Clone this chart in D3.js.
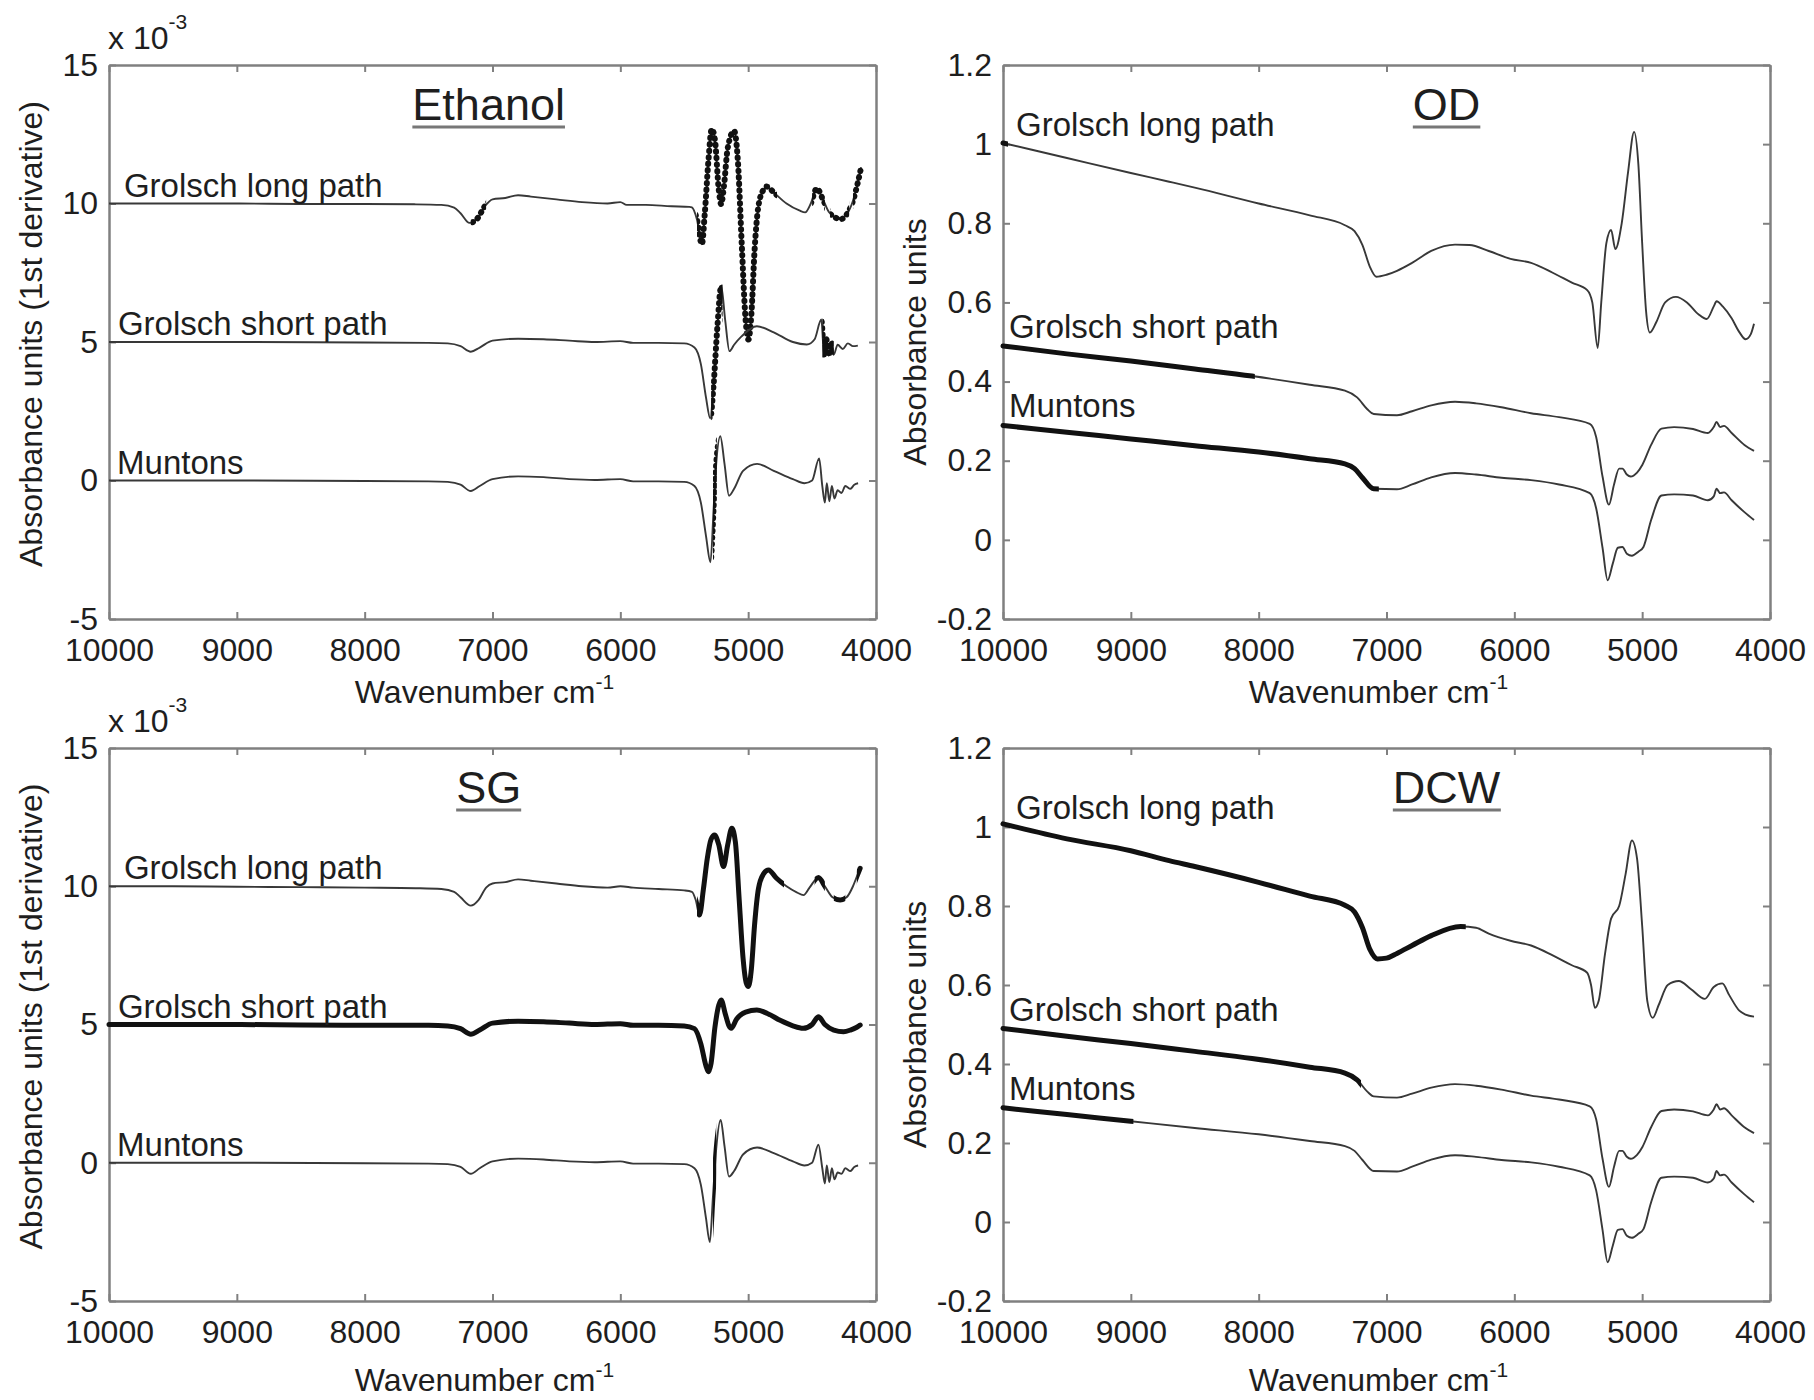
<!DOCTYPE html>
<html>
<head>
<meta charset="utf-8">
<script src="https://cdn.jsdelivr.net/npm/d3@7"></script>
<style>
  body { margin: 0; background: #fff; }
  text { font-family: "Liberation Sans", Arial, Helvetica, sans-serif; fill: #1e1e1e; }
</style>
</head>
<body>
<svg id="fig" width="1814" height="1400"></svg>
<script>
// ---- data: [wavenumber cm-1, value] ----
const wavenumberTicks = [10000, 9000, 8000, 7000, 6000, 5000, 4000];
const derivTicks = [-5, 0, 5, 10, 15];
const absTicks = [-0.2, 0, 0.2, 0.4, 0.6, 0.8, 1, 1.2];
const seriesNames = ["Grolsch long path", "Grolsch short path", "Muntons"];
const panelTitles = ["Ethanol", "OD", "SG", "DCW"];

// 1st derivative spectra (x 10^-3), offset by 10 / 5 / 0
const ethanolLongPath = [[10000,10.0],[9500,10.0],[9000,10.0],[8500,9.98],[8000,9.98],[7600,9.97],[7400,9.95],[7300,9.85],[7250,9.65],[7180,9.3],[7120,9.45],[7060,9.9],[7000,10.15],[6900,10.2],[6800,10.3],[6700,10.25],[6500,10.15],[6300,10.05],[6100,10.0],[6000,10.05],[5950,9.95],[5800,9.95],[5600,9.9],[5460,9.88],[5440,9.86],[5401,9.43],[5362,8.53],[5340,9.6],[5310,11.6],[5285,12.69],[5260,12.3],[5230,10.5],[5211,9.97],[5190,10.6],[5160,12.0],[5110,12.62],[5080,11.5],[5050,8.5],[5020,5.8],[4998,5.09],[4975,6.0],[4950,8.3],[4920,9.9],[4880,10.5],[4854,10.61],[4800,10.4],[4700,10.0],[4600,9.75],[4554,9.68],[4510,10.0],[4463,10.55],[4420,10.2],[4370,9.7],[4320,9.5],[4280,9.43],[4230,9.6],[4180,10.1],[4140,10.8],[4116,11.31]];
const ethanolShortPath = [[10000,5.0],[9000,5.0],[8000,4.98],[7500,4.97],[7350,4.95],[7250,4.85],[7170,4.65],[7100,4.8],[7000,5.05],[6800,5.12],[6600,5.1],[6400,5.05],[6200,5.0],[6000,5.03],[5900,4.97],[5700,4.97],[5500,4.95],[5420,4.8],[5370,4.2],[5330,3.0],[5297,2.24],[5270,3.5],[5240,5.6],[5211,7.02],[5180,5.8],[5146,4.67],[5110,4.9],[5050,5.21],[4932,5.57],[4800,5.35],[4650,5.0],[4541,4.91],[4480,5.1],[4428,5.81],[4405,4.49],[4389,5.1],[4370,4.5],[4350,5.0],[4330,4.55],[4300,4.9],[4260,4.75],[4220,4.95],[4180,4.85],[4142,4.87]];
const ethanolMuntons = [[10000,0],[9000,0],[8000,-0.02],[7500,-0.03],[7350,-0.05],[7250,-0.15],[7170,-0.38],[7100,-0.2],[7000,0.05],[6800,0.15],[6600,0.12],[6400,0.05],[6200,0.02],[6000,0.05],[5900,-0.03],[5700,-0.03],[5500,-0.05],[5420,-0.2],[5370,-0.8],[5330,-2.0],[5295,-2.95],[5270,-1.0],[5250,0.6],[5218,1.6],[5185,0.6],[5150,-0.55],[5110,-0.3],[5040,0.35],[4930,0.6],[4800,0.35],[4650,0.05],[4560,-0.1],[4500,0.0],[4445,0.8],[4420,-0.2],[4400,-0.8],[4385,-0.1],[4365,-0.75],[4345,-0.2],[4325,-0.65],[4300,-0.35],[4270,-0.45],[4240,-0.2],[4200,-0.3],[4170,-0.15],[4140,-0.1]];

const sgLongPath = [[10000,10.0],[9500,10.0],[9000,9.98],[8500,9.97],[8000,9.95],[7600,9.93],[7400,9.9],[7300,9.8],[7250,9.6],[7170,9.3],[7110,9.5],[7050,9.95],[7000,10.1],[6900,10.15],[6800,10.25],[6700,10.2],[6500,10.1],[6300,10.0],[6100,9.95],[6000,10.0],[5900,9.95],[5700,9.9],[5500,9.85],[5440,9.8],[5410,9.5],[5381,8.96],[5350,9.9],[5320,11.0],[5290,11.7],[5263,11.85],[5230,11.5],[5193,10.71],[5160,11.5],[5128,12.1],[5100,11.6],[5070,9.5],[5040,7.4],[5015,6.5],[4998,6.37],[4975,7.0],[4950,8.6],[4920,9.9],[4880,10.45],[4841,10.59],[4780,10.3],[4700,10.0],[4620,9.78],[4567,9.68],[4520,9.95],[4450,10.32],[4400,10.0],[4340,9.6],[4280,9.5],[4230,9.6],[4180,10.0],[4150,10.35],[4124,10.65]];
const sgShortPath = [[10000,5.0],[9000,5.0],[8500,4.98],[8000,4.97],[7500,4.97],[7350,4.95],[7250,4.85],[7170,4.65],[7100,4.8],[7000,5.05],[6800,5.12],[6600,5.1],[6400,5.05],[6200,5.0],[6000,5.03],[5900,4.97],[5700,4.97],[5500,4.95],[5420,4.85],[5370,4.3],[5330,3.5],[5311,3.29],[5290,3.6],[5260,4.9],[5230,5.7],[5211,5.89],[5180,5.4],[5150,4.95],[5133,4.86],[5090,5.2],[5020,5.45],[4932,5.52],[4850,5.4],[4750,5.15],[4650,4.95],[4570,4.86],[4500,5.0],[4450,5.28],[4400,5.0],[4330,4.8],[4254,4.74],[4200,4.8],[4150,4.9],[4124,4.98]];
const sgMuntons = [[10000,0],[9000,0],[8000,-0.02],[7500,-0.03],[7350,-0.05],[7250,-0.15],[7170,-0.4],[7100,-0.2],[7000,0.05],[6800,0.15],[6600,0.12],[6400,0.05],[6200,0.02],[6000,0.05],[5900,-0.03],[5700,-0.03],[5500,-0.05],[5420,-0.2],[5370,-0.8],[5330,-2.0],[5300,-2.87],[5275,-1.2],[5250,0.5],[5215,1.55],[5185,0.6],[5150,-0.5],[5110,-0.3],[5040,0.3],[4930,0.55],[4800,0.35],[4650,0.05],[4560,-0.1],[4500,0.0],[4450,0.65],[4420,-0.2],[4400,-0.75],[4385,-0.1],[4365,-0.7],[4345,-0.2],[4325,-0.6],[4300,-0.35],[4270,-0.4],[4240,-0.2],[4200,-0.3],[4170,-0.15],[4140,-0.1]];

// absorbance spectra
const odLongPath = [[10000,1.003],[9500,0.965],[9000,0.927],[8700,0.905],[8500,0.89],[8000,0.85],[7600,0.82],[7325,0.795],[7250,0.78],[7188,0.745],[7130,0.69],[7080,0.665],[7000,0.67],[6918,0.68],[6800,0.7],[6650,0.73],[6464,0.746],[6350,0.745],[6200,0.73],[6030,0.71],[5869,0.7],[5700,0.675],[5550,0.65],[5430,0.631],[5390,0.6],[5348,0.485],[5320,0.6],[5280,0.75],[5243,0.783],[5210,0.735],[5160,0.8],[5110,0.93],[5063,1.031],[5030,0.95],[5000,0.75],[4970,0.58],[4940,0.524],[4890,0.55],[4820,0.6],[4736,0.614],[4650,0.6],[4560,0.57],[4495,0.558],[4440,0.59],[4418,0.603],[4370,0.59],[4300,0.56],[4240,0.525],[4191,0.507],[4150,0.52],[4125,0.546]];
const dcwLongPath = [[10000,1.008],[9500,0.97],[9000,0.94],[8700,0.915],[8500,0.9],[8000,0.86],[7600,0.825],[7325,0.802],[7250,0.785],[7188,0.745],[7130,0.69],[7070,0.666],[7000,0.668],[6918,0.68],[6800,0.7],[6650,0.725],[6420,0.748],[6300,0.745],[6200,0.73],[6030,0.712],[5869,0.7],[5700,0.675],[5550,0.65],[5430,0.631],[5400,0.6],[5370,0.542],[5340,0.56],[5290,0.68],[5243,0.768],[5180,0.8],[5130,0.88],[5080,0.966],[5040,0.92],[5000,0.75],[4960,0.56],[4917,0.517],[4870,0.55],[4800,0.6],[4713,0.61],[4620,0.59],[4510,0.565],[4440,0.595],[4373,0.604],[4320,0.575],[4240,0.535],[4191,0.525],[4125,0.52]];
const shortPathAbsorbance = [[10000,0.49],[9500,0.47],[9000,0.452],[8500,0.432],[8052,0.414],[7600,0.392],[7325,0.377],[7230,0.36],[7150,0.33],[7100,0.318],[6918,0.315],[6800,0.325],[6650,0.34],[6464,0.349],[6300,0.345],[6100,0.335],[5869,0.32],[5650,0.31],[5410,0.293],[5360,0.26],[5310,0.16],[5260,0.089],[5220,0.14],[5180,0.18],[5154,0.18],[5120,0.165],[5090,0.16],[5040,0.17],[4998,0.19],[4930,0.24],[4849,0.281],[4750,0.285],[4602,0.28],[4486,0.27],[4440,0.285],[4418,0.298],[4390,0.285],[4360,0.288],[4300,0.27],[4200,0.24],[4125,0.225]];
const muntonsAbsorbance = [[10000,0.289],[9500,0.272],[9000,0.255],[8500,0.238],[8000,0.222],[7600,0.205],[7325,0.192],[7250,0.18],[7188,0.157],[7100,0.129],[6918,0.128],[6800,0.14],[6650,0.158],[6464,0.169],[6300,0.165],[6100,0.157],[5869,0.151],[5650,0.14],[5410,0.118],[5360,0.08],[5310,-0.02],[5270,-0.102],[5230,-0.06],[5190,-0.02],[5154,-0.018],[5120,-0.035],[5080,-0.04],[5030,-0.03],[4990,-0.018],[4930,0.05],[4849,0.112],[4750,0.115],[4602,0.112],[4486,0.1],[4440,0.11],[4418,0.129],[4390,0.118],[4360,0.12],[4300,0.1],[4200,0.07],[4125,0.05]];

// selected (bold) wavenumber ranges per series
const ethanolSelected = [
  [[7170,7050],[5400,4775],[4500,4400],[4360,4210],[4180,4116]],
  [[5290,5200],[4420,4330]],
  [[5275,5245]]
];
const odSelected = [[[10000,9960]], [[10000,8030]], [[10000,7060]]];
const sgSelected = [
  [[5400,4720],[4480,4400],[4330,4240],[4150,4116]],
  [[10000,4100]],
  [[5275,5250]]
];
const dcwSelected = [[[10000,6380]], [[10000,7200]], [[10000,8980]]];

// ---- layout ----
const svg = d3.select("#fig");
const cols = [{x0: 109, x1: 876}, {x0: 1003, x1: 1770}];
const rows = [{y0: 65, y1: 619, xt: 84}, {y0: 748, y1: 1301, xt: 90}];
const axisColor = "#808080";

const panels = [
  {title: panelTitles[0], col: 0, row: 0, kind: "deriv", series: [ethanolLongPath, ethanolShortPath, ethanolMuntons], sel: ethanolSelected, dotted: true},
  {title: panelTitles[1], col: 1, row: 0, kind: "abs", series: [odLongPath, shortPathAbsorbance, muntonsAbsorbance], sel: odSelected},
  {title: panelTitles[2], col: 0, row: 1, kind: "deriv", series: [sgLongPath, sgShortPath, sgMuntons], sel: sgSelected},
  {title: panelTitles[3], col: 1, row: 1, kind: "abs", series: [dcwLongPath, shortPathAbsorbance, muntonsAbsorbance], sel: dcwSelected}
];

const defs = svg.append("defs");

panels.forEach((p, pi) => {
  const c = cols[p.col], r = rows[p.row];
  const deriv = p.kind === "deriv";
  const x = d3.scaleLinear().domain([10000, 4000]).range([c.x0, c.x1]);
  const y = d3.scaleLinear().domain(deriv ? [-5, 15] : [-0.2, 1.2]).range([r.y1, r.y0]);
  const g = svg.append("g").attr("class", "panel");

  // box axes, ticks pointing inward
  const fmt = d => String(d);
  const ax = [
    {a: d3.axisBottom(x).tickValues(wavenumberTicks).tickFormat(fmt).tickPadding(19), t: `translate(0,${r.y1})`},
    {a: d3.axisTop(x).tickValues(wavenumberTicks).tickFormat(""), t: `translate(0,${r.y0})`},
    {a: d3.axisLeft(y).tickValues(deriv ? derivTicks : absTicks).tickFormat(fmt).tickPadding(11), t: `translate(${c.x0},0)`},
    {a: d3.axisRight(y).tickValues(deriv ? derivTicks : absTicks).tickFormat(""), t: `translate(${c.x1},0)`}
  ];
  ax.forEach(o => {
    const ag = g.append("g").attr("transform", o.t)
      .call(o.a.tickSizeInner(-7).tickSizeOuter(0));
    ag.attr("font-family", null).attr("font-size", null);
    ag.select(".domain").attr("stroke", axisColor).attr("stroke-width", 2.5);
    ag.selectAll(".tick line").attr("stroke", axisColor).attr("stroke-width", 2);
    ag.selectAll(".tick text").style("font-size", "32px").attr("fill", "#1e1e1e");
  });

  // spectra
  const line = d3.line().x(d => x(d[0])).y(d => y(d[1])).curve(d3.curveMonotoneX);
  p.series.forEach((s, si) => {
    g.append("path").datum(s)
      .attr("d", line)
      .attr("fill", "none")
      .attr("stroke", "#383838")
      .attr("stroke-width", 1.9)
      .attr("stroke-linejoin", "round");

    p.sel[si].forEach((rng, k) => {
      const id = `sel-${pi}-${si}-${k}`;
      const xa = x(rng[0]) - (rng[0] >= 10000 ? 4 : 0);
      const xb = x(rng[1]) + (rng[1] <= 4116 ? 4 : 0);
      defs.append("clipPath").attr("id", id)
        .append("rect")
        .attr("x", xa).attr("y", r.y0 - 10)
        .attr("width", xb - xa).attr("height", r.y1 - r.y0 + 20);
      const bp = g.append("path").datum(s)
        .attr("d", line)
        .attr("fill", "none")
        .attr("stroke", "#111")
        .attr("stroke-linecap", "round")
        .attr("stroke-linejoin", "round")
        .attr("clip-path", `url(#${id})`);
      if (p.dotted) bp.attr("stroke-width", 6).attr("stroke-dasharray", "0.5 6");
      else bp.attr("stroke-width", 5);
    });
  });

  // series labels
  const labelAt = deriv
    ? [[9883, 10.25], [9930, 5.25], [9937, 0.25]]
    : [[9898, 1.02], [9953, 0.51], [9953, 0.31]];
  seriesNames.forEach((name, i) => {
    g.append("text")
      .attr("x", x(labelAt[i][0])).attr("y", y(labelAt[i][1]))
      .style("font-size", "33px")
      .text(name);
  });

  // underlined panel title
  const tt = g.append("text")
    .attr("x", x(deriv ? 7030 : 6530)).attr("y", r.y0 + 55)
    .attr("text-anchor", "middle")
    .style("font-size", "45px")
    .text(p.title);
  const bb = tt.node().getBBox();
  g.append("line")
    .attr("x1", bb.x).attr("x2", bb.x + bb.width)
    .attr("y1", r.y0 + 62).attr("y2", r.y0 + 62)
    .attr("stroke", "#777").attr("stroke-width", 3);

  // axis titles
  const xt = g.append("text")
    .attr("x", (c.x0 + c.x1) / 2 - 8).attr("y", r.y1 + r.xt)
    .attr("text-anchor", "middle")
    .style("font-size", "32px");
  xt.append("tspan").text("Wavenumber cm");
  xt.append("tspan").attr("dy", -14).style("font-size", "21px").text("-1");

  g.append("text")
    .attr("transform", `translate(${deriv ? 31 : 915},${(r.y0 + r.y1) / 2 - (deriv ? 8 : 0)}) rotate(-90)`)
    .attr("text-anchor", "middle")
    .attr("dy", "0.35em")
    .style("font-size", "32px")
    .text(deriv ? "Absorbance units (1st derivative)" : "Absorbance units");

  // exponent multiplier on derivative axes
  if (deriv) {
    const m = g.append("text")
      .attr("x", c.x0 - 1).attr("y", r.y0 - 16)
      .style("font-size", "32px");
    m.append("tspan").text("x 10");
    m.append("tspan").attr("dy", -20).style("font-size", "21px").text("-3");
  }
});
</script>
</body>
</html>
